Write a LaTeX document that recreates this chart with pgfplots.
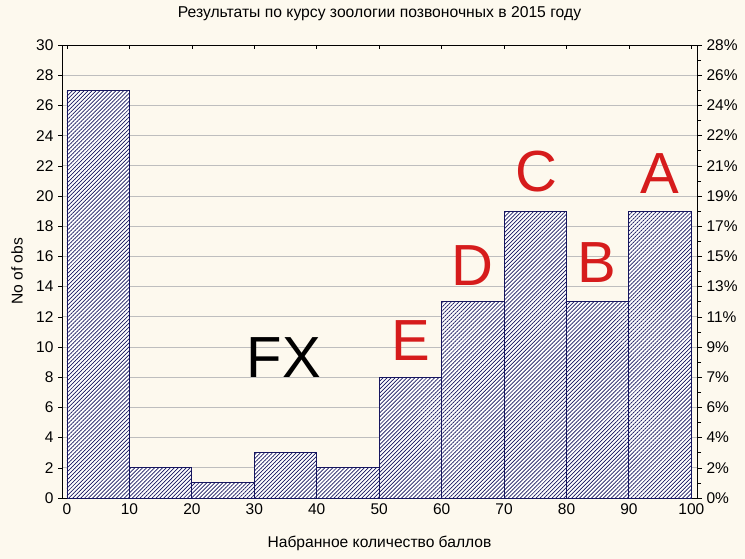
\documentclass[border=0pt]{standalone}
\usepackage{pgfplots}
\pgfplotsset{compat=1.18}
\usetikzlibrary{patterns.meta}
\usepackage{fontspec}
\setmainfont{Liberation Sans}
\definecolor{bg}{RGB}{253,249,238}
\definecolor{barblue}{RGB}{22,22,95}
\definecolor{lblred}{RGB}{214,28,28}
\definecolor{gridgray}{RGB}{190,190,190}
\begin{document}
\begin{tikzpicture}
\fill[bg] (-62pt,-61pt) rectangle (683pt,498pt);
\begin{axis}[
  at={(0pt,0pt)}, anchor=south west,
  scale only axis, width=635pt, height=453pt,
  xmin=-0.8, xmax=100.9, ymin=0, ymax=30,
  xtick={0,10,...,100}, ytick={0,2,...,30},
  xtick pos=both, xtick align=inside,
  ytick pos=left, ytick align=outside,
  major tick length=4pt,
  tick style={black, line width=0.5pt},
  axis line style={black, line width=0.9pt},
  ymajorgrids, grid style={gridgray, line width=0.7pt},
  ticklabel style={font=\fontsize{15.5}{18}\selectfont},
  /pgf/number format/assume math mode=true,
  xticklabel style={yshift=-2pt},
  yticklabel style={xshift=-1pt},
  title={Результаты по курсу зоологии позвоночных в 2015 году},
  title style={font=\fontsize{15.7}{18}\selectfont, at={(axis description cs:0.5,1.0552)}, anchor=center},
  xlabel={Набранное количество баллов},
  xlabel style={font=\fontsize{15.6}{18}\selectfont, at={(axis description cs:0.5,-0.0993)}, anchor=center},
  ylabel={No of obs},
  ylabel style={font=\fontsize{15.6}{18}\selectfont, at={(axis description cs:-0.0709,0.5)}, anchor=center},
  clip=false,
]
\addplot[ybar interval, fill=white, draw=barblue, line width=0.9pt,
  postaction={pattern={Lines[angle=45,distance=2.8pt,line width=0.7pt]}, pattern color=barblue}]
  coordinates {(0,27) (10,2) (20,1) (30,3) (40,2) (50,8) (60,13) (70,19) (80,13) (90,19) (100,19)};
\node[font=\fontsize{58}{58}\selectfont, inner sep=0pt, text=black] at (axis cs:34.7,9.27) {FX};
\node[font=\fontsize{58}{58}\selectfont, inner sep=0pt, text=lblred] at (axis cs:55.0,10.4) {E};
\node[font=\fontsize{58}{58}\selectfont, inner sep=0pt, text=lblred] at (axis cs:64.9,15.4) {D};
\node[font=\fontsize{58}{58}\selectfont, inner sep=0pt, text=lblred] at (axis cs:75.2,21.6) {C};
\node[font=\fontsize{58}{58}\selectfont, inner sep=0pt, text=lblred] at (axis cs:84.9,15.6) {B};
\node[font=\fontsize{58}{58}\selectfont, inner sep=0pt, text=lblred] at (axis cs:94.9,21.5) {A};
\end{axis}
\begin{axis}[
  at={(0pt,0pt)}, anchor=south west,
  scale only axis, width=635pt, height=453pt,
  xmin=-0.8, xmax=100.9, ymin=0, ymax=30,
  axis x line=none, axis y line*=right,
  axis line style={black, line width=0.9pt, -},
  ytick={0,2,...,30},
  yticklabels={0\%,2\%,4\%,6\%,7\%,9\%,11\%,13\%,15\%,17\%,19\%,21\%,22\%,24\%,26\%,28\%},
  minor ytick={1,3,...,29},
  ytick align=outside,
  major tick length=5pt, minor tick length=4pt,
  tick style={black, line width=0.5pt},
  yticklabel style={font=\fontsize{15.5}{18}\selectfont, xshift=1pt},
]
\addplot[draw=none] coordinates {(0,0)};
\end{axis}
\end{tikzpicture}
\end{document}
